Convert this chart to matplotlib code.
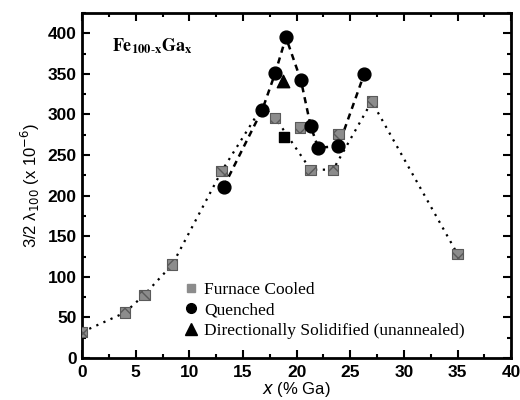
import matplotlib.pyplot as plt
from matplotlib.lines import Line2D
from matplotlib.ticker import MultipleLocator

# furnace cooled (grey squares)
fc_x = [0, 4.0, 5.8, 8.4, 13.0, 18.0, 20.3, 21.3, 23.4, 23.9, 27.0, 35.0]
fc_y = [32, 56, 78, 115, 230, 296, 284, 232, 232, 276, 316, 128]
# points the dotted curve runs through
fc_line_x = [0, 4.0, 5.8, 8.4, 13.0, 16.8, 18.0, 21.3, 23.4, 27.0, 35.0]
fc_line_y = [32, 56, 78, 115, 230, 310, 296, 232, 232, 316, 128]

# quenched (black circles)
q_x = [13.2, 16.8, 18.0, 19.0, 20.4, 21.3, 22.0, 23.9, 26.3]
q_y = [211, 306, 351, 395, 342, 286, 259, 261, 350]

# extra black square and directionally solidified triangle
sq_x = [18.8]
sq_y = [272]
ds_x = [18.7]
ds_y = [341]

plt.rcParams['font.family'] = ['Liberation Sans', 'DejaVu Sans']
fig = plt.figure(figsize=(5.2, 4), dpi=100)
ax = fig.add_axes([0.158, 0.105, 0.825, 0.8625])

ax.plot(fc_line_x, fc_line_y, color="k", linestyle=(0, (1, 2.5)), linewidth=1.6, zorder=1)
ax.plot(q_x, q_y, color="k", linestyle=(0, (2.5, 2)), linewidth=1.8, zorder=1)

ax.scatter(fc_x, fc_y, marker="s", s=55, facecolor="#8c8c8c", edgecolor="#5a5a5a",
           hatch="xx", linewidth=0.8, zorder=3)
ax.scatter(q_x, q_y, marker="o", s=85, color="k", zorder=4)
ax.scatter(sq_x, sq_y, marker="s", s=55, color="k", zorder=4)
ax.scatter(ds_x, ds_y, marker="^", s=80, color="k", zorder=4)

handles = [
    Line2D([], [], marker="s", linestyle="none", markersize=6, markerfacecolor="#8c8c8c",
           markeredgecolor="#8c8c8c"),
    Line2D([], [], marker="o", linestyle="none", markersize=7, color="k"),
    Line2D([], [], marker="^", linestyle="none", markersize=9, color="k"),
]
labels = ["Furnace Cooled", "Quenched", "Directionally Solidified (unannealed)"]
ax.legend(handles, labels, loc="lower left", bbox_to_anchor=(0.2, 0.02), frameon=False,
          prop={"family": "Liberation Serif", "size": 12.5}, handletextpad=0.2,
          labelspacing=0.25, borderpad=0.2, handlelength=1.2)

ax.text(0.07, 0.89, r"$\mathbf{Fe_{100\text{-}x}Ga_x}$", transform=ax.transAxes,
        fontsize=13, math_fontfamily="stix")

ax.set_xlim(0, 40)
ax.set_ylim(0, 425)
ax.xaxis.set_major_locator(MultipleLocator(5))
ax.xaxis.set_minor_locator(MultipleLocator(2.5))
ax.yaxis.set_major_locator(MultipleLocator(50))
ax.yaxis.set_minor_locator(MultipleLocator(25))
ax.tick_params(which="both", direction="in", top=True, right=True, width=1.5)
ax.tick_params(which="major", length=6, labelsize=12.5)
ax.tick_params(axis="x", which="major", pad=5)
ax.tick_params(axis="y", which="major", pad=4)
ax.tick_params(which="minor", length=3)
for lab in ax.get_xticklabels() + ax.get_yticklabels():
    lab.set_fontweight("bold")
for s in ax.spines.values():
    s.set_linewidth(2)

ax.set_xlabel(r"$\it{x}$ (% Ga)", fontsize=12, labelpad=0)
ax.set_ylabel("3/2 λ$_{100}$ (x 10$^{-6}$)", fontsize=12, labelpad=4)

fig.savefig("out.png", dpi=100)
